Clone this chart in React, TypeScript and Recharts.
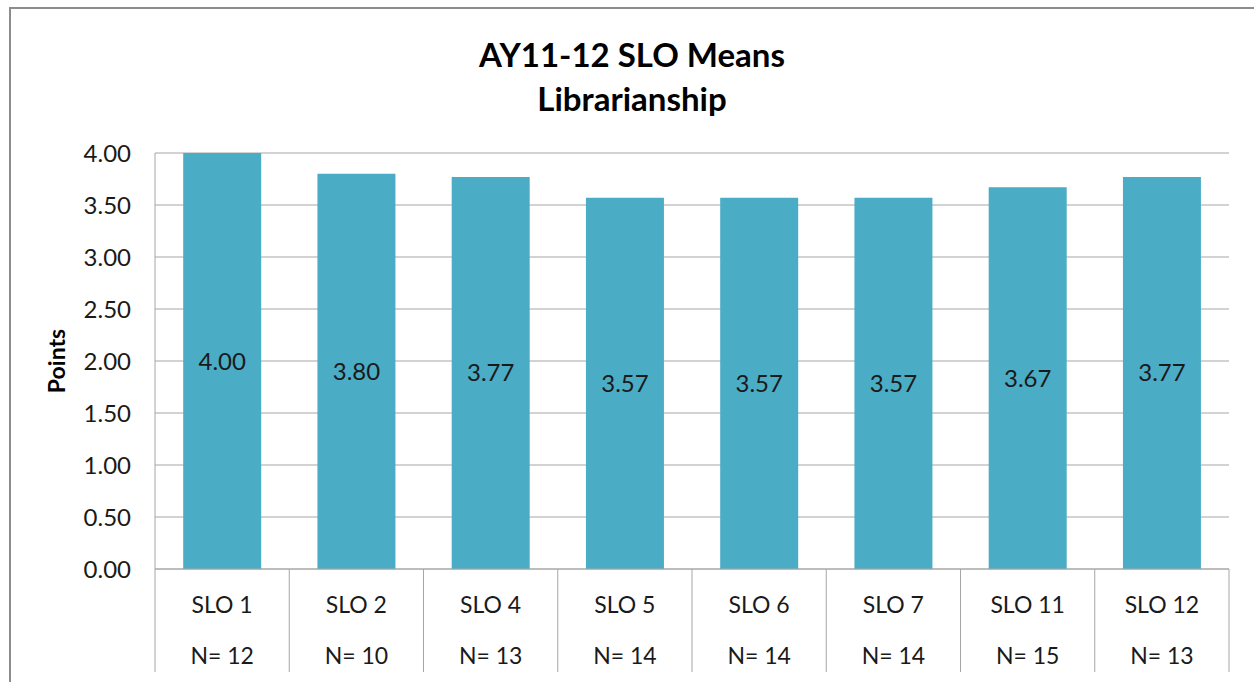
import React from "react";
import { BarChart, Bar, XAxis, YAxis, CartesianGrid, LabelList } from "recharts";

const categories = ["SLO 1", "SLO 2", "SLO 4", "SLO 5", "SLO 6", "SLO 7", "SLO 11", "SLO 12"];
const counts = ["N= 12", "N= 10", "N= 13", "N= 14", "N= 14", "N= 14", "N= 15", "N= 13"];
const means = [4.0, 3.8, 3.77, 3.57, 3.57, 3.57, 3.67, 3.77];
const yTicks = [0, 0.5, 1, 1.5, 2, 2.5, 3, 3.5, 4];

const data = categories.map((c, i) => ({ name: c, n: counts[i], value: means[i] }));

const FONT = "Lato, 'Open Sans', sans-serif";

const XTick = (props: any) => {
  const { x, y, payload, index } = props;
  const off = payload.offset || 0;
  const bottom = 672;
  return (
    <g>
      <line x1={x - off} y1={y} x2={x - off} y2={bottom} stroke="#a6a6a6" strokeWidth={1} />
      {index === categories.length - 1 && (
        <line x1={x + off} y1={y} x2={x + off} y2={bottom} stroke="#a6a6a6" strokeWidth={1} />
      )}
      <text x={x} y={y + 35} textAnchor="middle" dominantBaseline="central" fontSize={23} fill="#1a1a1a" fontFamily={FONT}>
        {payload.value}
      </text>
      <text x={x} y={y + 86} textAnchor="middle" dominantBaseline="central" fontSize={23} fill="#1a1a1a" fontFamily={FONT}>
        {counts[index]}
      </text>
    </g>
  );
};

export default function App() {
  return (
    <div style={{ position: "absolute", left: 0, top: 0, width: 1254, height: 682, background: "#fff", overflow: "hidden" }}>
      <div
        style={{
          position: "absolute",
          left: 9,
          top: 7,
          width: 1300,
          height: 700,
          borderLeft: "2px solid #8c8c8c",
          borderTop: "2px solid #8c8c8c",
        }}
      />
      <div
        style={{
          position: "absolute",
          left: 0,
          width: 1264,
          top: 32,
          textAlign: "center",
          fontFamily: FONT,
          fontWeight: "bold",
          fontSize: 33,
          lineHeight: "44px",
          color: "#000",
        }}
      >
        <div>AY11-12 SLO Means</div>
        <div>Librarianship</div>
      </div>
      <div style={{ position: "absolute", left: 0, top: 0 }}>
        <BarChart
          width={1254}
          height={682}
          data={data}
          margin={{ top: 153, right: 25, bottom: 0, left: 0 }}
          barCategoryGap="21%"
        >
          <CartesianGrid vertical={false} stroke="#a6a6a6" strokeWidth={1} />
          <YAxis
            width={155}
            domain={[0, 4]}
            ticks={yTicks}
            interval={0}
            tickFormatter={(v: number) => v.toFixed(2)}
            tickLine={false}
            tickSize={0}
            tickMargin={24}
            axisLine={{ stroke: "#a6a6a6" }}
            tick={{ fontSize: 24, fill: "#1a1a1a", fontFamily: FONT }}
            label={{
              value: "Points",
              angle: -90,
              position: "insideLeft",
              dx: 52,
              style: { fontSize: 23, fontWeight: "bold", fill: "#000", fontFamily: FONT, textAnchor: "middle" },
            }}
          />
          <XAxis
            dataKey="name"
            interval={0}
            tickLine={false}
            tickSize={0}
            tickMargin={0}
            axisLine={{ stroke: "#a6a6a6" }}
            tick={<XTick />}
            height={113}
          />
          <Bar dataKey="value" fill="#4bacc6" isAnimationActive={false}>
            <LabelList
              dataKey="value"
              position="center"
              formatter={(v: number) => v.toFixed(2)}
              style={{ fontSize: 24, fill: "#1a1a1a", fontFamily: FONT }}
            />
          </Bar>
        </BarChart>
      </div>
    </div>
  );
}
